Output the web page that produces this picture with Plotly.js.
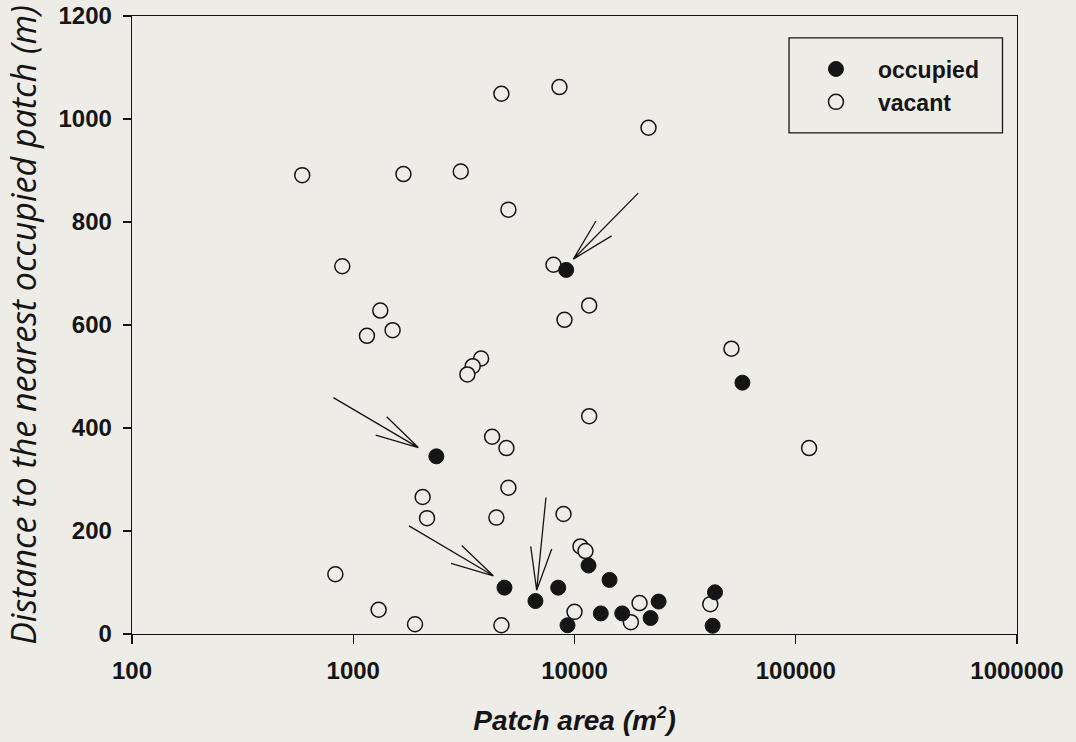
<!DOCTYPE html>
<html>
<head>
<meta charset="utf-8">
<script src="https://cdn.plot.ly/plotly-3.0.1.min.js"></script>
<style>
  html, body { margin: 0; padding: 0; background: #eeece7; }
  #chart { width: 1076px; height: 742px; }
</style>
</head>
<body>
<div id="chart"></div>
<script>
// Patch area (m²) and distance to nearest occupied patch (m)
const vacantArea = [588, 1686, 3061, 5026, 4673, 8551, 21600, 892, 8035, 1325, 1506, 1153, 11650, 9010, 3783, 3467, 3279, 11650, 51200, 114900, 4243, 4925, 5026, 2059, 2155, 4436, 8920, 10640, 11210, 830, 1302, 1902, 4673, 10000, 19680, 17980, 41100];
const vacantDist = [891, 893, 898, 824, 1049, 1062, 983, 714, 717, 628, 590, 579, 638, 610, 535, 520, 504, 423, 554, 361, 383, 361, 284, 266, 225, 226, 233, 170, 161, 116, 47, 19, 17, 43, 60, 23, 58];

const occupiedArea = [9170, 57400, 2375, 11570, 14400, 4825, 8440, 6660, 9300, 13150, 16430, 24000, 22070, 43150, 42100];
const occupiedDist = [707, 488, 345, 133, 105, 90, 90, 64, 17, 40, 40, 63, 31, 81, 16];

const xTickVals = [100, 1000, 10000, 100000, 1000000];
const xTickText = ['100', '1000', '10000', '100000', '1000000'];
const yTickVals = [0, 200, 400, 600, 800, 1000, 1200];

// Annotation arrows in data units: [tail, tip, barb1, barb2], each [area, distance]
const arrows = [
  [[19410, 856], [9880, 728], [12500, 802], [14720, 773]],
  [[813, 459], [1968, 362], [1416, 422], [1263, 386]],
  [[1786, 210], [4295, 113], [3091, 172], [2767, 137]],
  [[7430, 265], [6745, 85], [6340, 170], [7890, 165]]
];

const X_MIN = 2, X_MAX = 6, Y_MIN = 0, Y_MAX = 1200;
const toPaper = p => [(Math.log10(p[0]) - X_MIN) / (X_MAX - X_MIN), (p[1] - Y_MIN) / (Y_MAX - Y_MIN)];

const BG = '#eeece7';
const INK = '#151515';
const FONT = '"Liberation Sans", Arial, sans-serif';

const shapes = arrows.map(a => {
  const [t, h, b1, b2] = a.map(toPaper);
  return {
    type: 'path', xref: 'paper', yref: 'paper',
    path: `M${t[0]},${t[1]} L${h[0]},${h[1]} M${b1[0]},${b1[1]} L${h[0]},${h[1]} L${b2[0]},${b2[1]}`,
    line: { color: INK, width: 1.3 }
  };
});
// legend frame
shapes.push({
  type: 'rect', xref: 'paper', yref: 'paper',
  x0: 0.7424, x1: 0.9836, y0: 0.811, y1: 0.9645,
  line: { color: INK, width: 1.3 }, fillcolor: 'rgba(0,0,0,0)'
});

const traces = [
  {
    type: 'scatter', mode: 'markers', name: 'occupied',
    x: occupiedArea, y: occupiedDist, legendgroup: 'a', legendrank: 1,
    marker: { symbol: 'circle', size: 15, color: INK, line: { color: INK, width: 1 } }
  },
  {
    type: 'scatter', mode: 'markers', name: 'vacant',
    x: vacantArea, y: vacantDist, legendgroup: 'b', legendrank: 2,
    marker: { symbol: 'circle', size: 15, color: BG, line: { color: INK, width: 1.5 } }
  }
];
// draw vacant first so filled points sit on top
const plotTraces = [traces[1], traces[0]];

const layout = {
  width: 1076, height: 742,
  paper_bgcolor: BG, plot_bgcolor: BG,
  margin: { l: 132, r: 59, t: 16, b: 108 },
  font: { family: FONT, color: INK, size: 23 },
  showlegend: true,
  legend: {
    x: 0.748, y: 0.949, xanchor: 'left', yanchor: 'top',
    bgcolor: 'rgba(0,0,0,0)', borderwidth: 0,
    font: { family: FONT, size: 23, color: INK, weight: 'bold' },
    itemwidth: 74, tracegroupgap: 0, traceorder: 'grouped'
  },
  xaxis: {
    type: 'log', range: [X_MIN, X_MAX],
    tickvals: xTickVals, ticktext: xTickText,
    ticks: 'outside', ticklen: 9, tickwidth: 1.3, tickcolor: INK,
    showline: true, linecolor: INK, linewidth: 1.3, mirror: true,
    showgrid: false, zeroline: false, ticklabelstandoff: 6,
    tickfont: { family: FONT, size: 24, color: INK, weight: 'bold' },
    title: { text: 'Patch area (m<sup><span style="font-size:17px">2</span></sup>)', font: { family: FONT, size: 28, color: INK, weight: 'bold', style: 'italic' }, standoff: 27 }
  },
  yaxis: {
    range: [Y_MIN, Y_MAX], tickvals: yTickVals,
    ticks: 'outside', ticklen: 8, tickwidth: 1.3, tickcolor: INK,
    showline: true, linecolor: INK, linewidth: 1.3, mirror: true,
    showgrid: false, zeroline: false, ticklabelstandoff: 6,
    tickfont: { family: FONT, size: 24, color: INK, weight: 'bold' },
    title: { text: 'Distance to the nearest occupied patch (m)', font: { family: '"Open Sans", sans-serif', size: 34, color: INK, weight: 'normal', style: 'italic' }, standoff: 12 }
  },
  shapes: shapes
};

Plotly.newPlot('chart', plotTraces, layout, { displayModeBar: false, staticPlot: true });
</script>
</body>
</html>
